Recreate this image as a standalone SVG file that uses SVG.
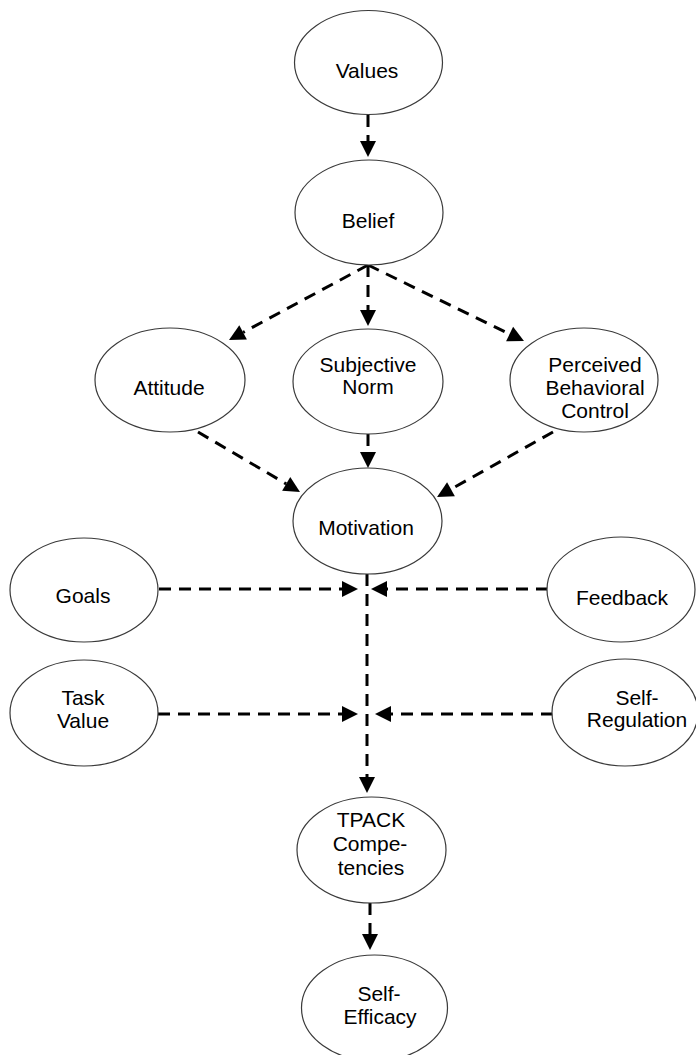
<svg xmlns="http://www.w3.org/2000/svg" width="696" height="1055" viewBox="0 0 696 1055">
<style>
.n{fill:#fff;stroke:#3a3a3a;stroke-width:1.2}
.t{font-family:"Liberation Sans",Arial,sans-serif;font-size:21px;fill:#000;text-anchor:middle}
.c{fill:none;stroke:#000;stroke-width:3;stroke-dasharray:12 8}
</style>
<defs>
<marker id="ah" markerUnits="userSpaceOnUse" markerWidth="17" markerHeight="17" refX="0" refY="8" orient="auto" overflow="visible">
<path d="M0,0 L16,8 L0,16 Z" fill="#000"/>
</marker>
</defs>
<rect width="696" height="1055" fill="#fff"/>
<g id="connectors">
<line class="c" x1="368" y1="115" x2="368" y2="141" marker-end="url(#ah)"/>
<line class="c" x1="368" y1="265" x2="368" y2="310" marker-end="url(#ah)"/>
<line class="c" x1="368" y1="265" x2="243.1" y2="332.4" marker-end="url(#ah)"/>
<line class="c" x1="368" y1="265" x2="509.6" y2="334" marker-end="url(#ah)"/>
<line class="c" x1="368" y1="434" x2="368" y2="452" marker-end="url(#ah)"/>
<line class="c" x1="198" y1="432" x2="286.2" y2="483.9" marker-end="url(#ah)"/>
<line class="c" x1="553" y1="432" x2="451" y2="489.2" marker-end="url(#ah)"/>
<line class="c" x1="367" y1="574" x2="367" y2="777" marker-end="url(#ah)"/>
<line class="c" x1="159" y1="589" x2="342" y2="589" marker-end="url(#ah)"/>
<line class="c" x1="548" y1="589" x2="387" y2="589" marker-end="url(#ah)"/>
<line class="c" x1="158" y1="714" x2="342" y2="714" marker-end="url(#ah)"/>
<line class="c" x1="553" y1="714" x2="391" y2="714" marker-end="url(#ah)"/>
<line class="c" x1="370" y1="903" x2="370" y2="934" marker-end="url(#ah)"/>
</g>
<g id="values"><ellipse class="n" cx="368.5" cy="62.5" rx="74" ry="52"/><text class="t" x="367" y="78">Values</text></g>
<g id="belief"><ellipse class="n" cx="369" cy="212.5" rx="74" ry="52.5"/><text class="t" x="368" y="228">Belief</text></g>
<g id="attitude"><ellipse class="n" cx="170" cy="380" rx="75" ry="52"/><text class="t" x="169" y="395">Attitude</text></g>
<g id="subjective-norm"><ellipse class="n" cx="368" cy="381.5" rx="75" ry="52.5"/><text class="t" x="368" y="372">Subjective</text><text class="t" x="368" y="394">Norm</text></g>
<g id="perceived-behavioral-control"><ellipse class="n" cx="584" cy="380" rx="74" ry="52"/><text class="t" x="595" y="372">Perceived</text><text class="t" x="595" y="395">Behavioral</text><text class="t" x="595" y="418">Control</text></g>
<g id="motivation"><ellipse class="n" cx="367.5" cy="521" rx="74.5" ry="53"/><text class="t" x="366" y="535">Motivation</text></g>
<g id="goals"><ellipse class="n" cx="84" cy="590" rx="74" ry="52"/><text class="t" x="83" y="603">Goals</text></g>
<g id="feedback"><ellipse class="n" cx="621" cy="589.5" rx="74" ry="52.5"/><text class="t" x="622" y="605">Feedback</text></g>
<g id="task-value"><ellipse class="n" cx="84" cy="713" rx="74" ry="53"/><text class="t" x="83" y="705">Task</text><text class="t" x="83" y="728">Value</text></g>
<g id="self-regulation"><ellipse class="n" cx="625" cy="712.5" rx="73" ry="53.5"/><text class="t" x="637" y="705">Self-</text><text class="t" x="637" y="727">Regulation</text></g>
<g id="tpack-competencies"><ellipse class="n" cx="371.5" cy="850" rx="74.5" ry="53"/><text class="t" x="371" y="827">TPACK</text><text class="t" x="370" y="851">Compe-</text><text class="t" x="371" y="875">tencies</text></g>
<g id="self-efficacy"><ellipse class="n" cx="374.5" cy="1008" rx="73" ry="53"/><text class="t" x="379" y="1001">Self-</text><text class="t" x="380" y="1024">Efficacy</text></g>
</svg>
